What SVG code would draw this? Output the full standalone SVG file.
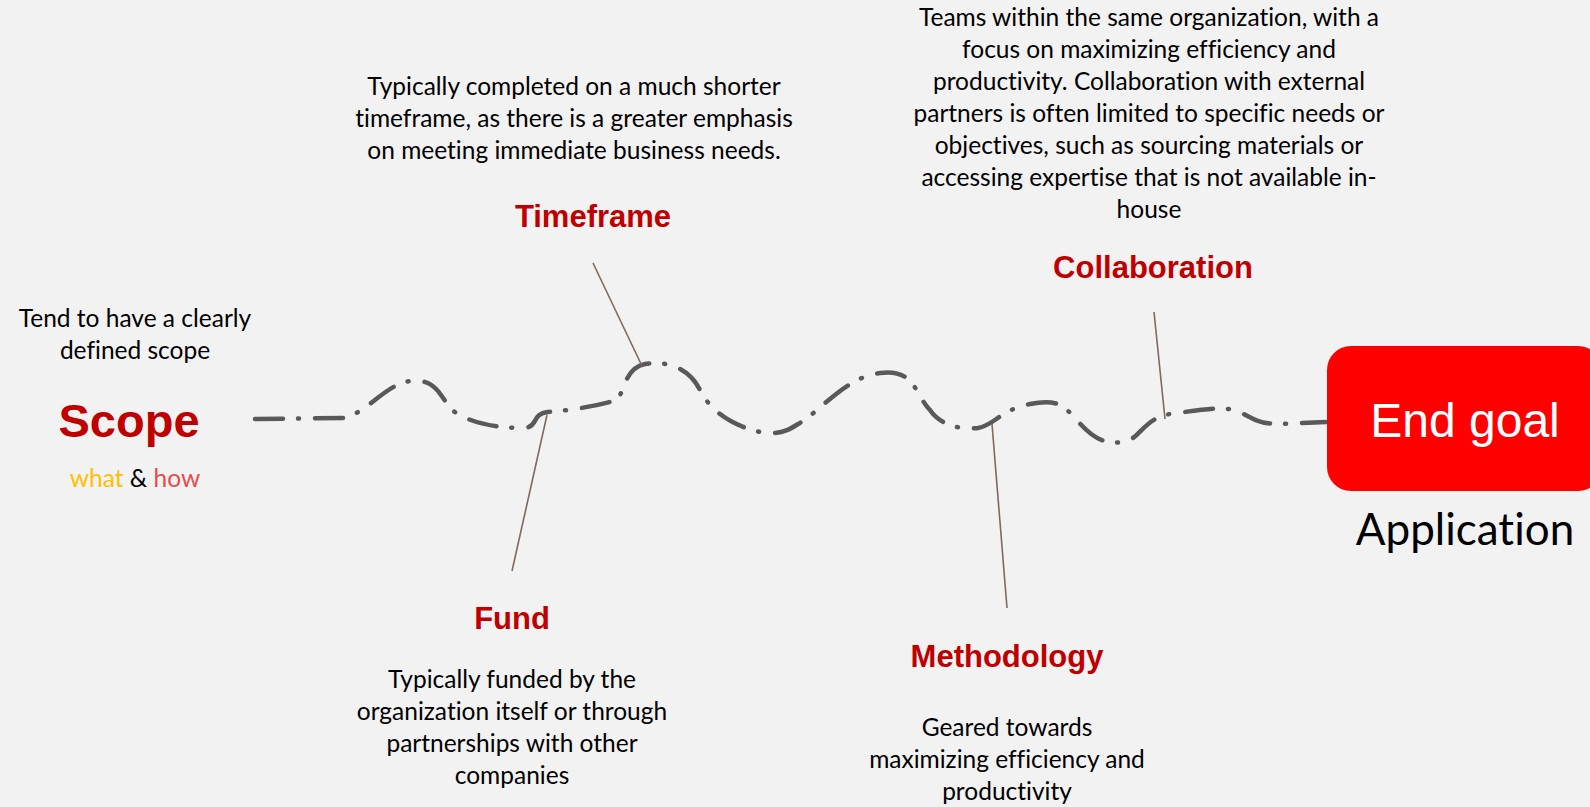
<svg xmlns="http://www.w3.org/2000/svg" width="1590" height="807" viewBox="0 0 1590 807">
<style>
.body{font-family:Lato,"Noto Sans",sans-serif;font-size:24.5px;fill:#000;text-anchor:middle;font-variant-ligatures:none}
.head{font-family:"Liberation Sans",Arial,sans-serif;font-weight:bold;font-size:31px;fill:#C00000;text-anchor:middle}
.leader{stroke:#7F6A5E;stroke-width:1.6;fill:none}
.wave{stroke:#595959;stroke-width:4.5;fill:none;stroke-linecap:round;stroke-dasharray:28 15 1 16}
</style>
<rect width="1590" height="807" fill="#F2F2F2"/>
<g id="connectors">
<path class="wave" d="M255,419 L345,418 C370,410 385,385 410,381 C435,378 440,395 450,408 C462,420 490,428 522,428 C540,428 530,414 548,412 C575,410 600,405 617,400 C625,390 625,368 645,364 C670,360 690,370 700,390 C710,410 730,425 760,432 C785,436 790,428 805,420 C830,400 850,377 880,373 C915,368 915,395 930,410 C940,425 960,430 978,428 C995,425 1000,410 1030,404 C1060,398 1065,408 1075,418 C1090,435 1100,445 1125,442 C1140,438 1145,418 1170,414 C1200,410 1225,405 1240,412 C1255,420 1260,424 1282,424 L1326,422"/>
<line class="leader" x1="593" y1="263" x2="642" y2="366"/>
<line class="leader" x1="547" y1="415" x2="512" y2="571"/>
<line class="leader" x1="992" y1="424" x2="1007" y2="608"/>
<line class="leader" x1="1154" y1="312" x2="1165" y2="419"/>
</g>
<g id="scope">
<text class="body" x="135" y="327">Tend to have a clearly</text>
<text class="body" x="135" y="359">defined scope</text>
<text class="head" x="129" y="437" style="font-size:47px">Scope</text>
<text class="body" x="135" y="487"><tspan fill="#FFC000">what</tspan> &amp; <tspan fill="#E84B4B">how</tspan></text>
</g>
<g id="timeframe">
<text class="body" x="574" y="95">Typically completed on a much shorter</text>
<text class="body" x="574" y="127">timeframe, as there is a greater emphasis</text>
<text class="body" x="574" y="159">on meeting immediate business needs.</text>
<text class="head" x="593" y="227">Timeframe</text>
</g>
<g id="fund">
<text class="head" x="512" y="629">Fund</text>
<text class="body" x="512" y="688">Typically funded by the</text>
<text class="body" x="512" y="720">organization itself or through</text>
<text class="body" x="512" y="752">partnerships with other</text>
<text class="body" x="512" y="784">companies</text>
</g>
<g id="methodology">
<text class="head" x="1007" y="667">Methodology</text>
<text class="body" x="1007" y="736">Geared towards</text>
<text class="body" x="1007" y="768">maximizing efficiency and</text>
<text class="body" x="1007" y="800">productivity</text>
</g>
<g id="collaboration">
<text class="body" x="1149" y="26">Teams within the same organization, with a</text>
<text class="body" x="1149" y="58">focus on maximizing efficiency and</text>
<text class="body" x="1149" y="90">productivity. Collaboration with external</text>
<text class="body" x="1149" y="122">partners is often limited to specific needs or</text>
<text class="body" x="1149" y="154">objectives, such as sourcing materials or</text>
<text class="body" x="1149" y="186">accessing expertise that is not available in-</text>
<text class="body" x="1149" y="218">house</text>
<text class="head" x="1153" y="278">Collaboration</text>
</g>
<g id="endgoal">
<rect x="1327" y="346" width="275" height="145" rx="24" fill="#FF0000"/>
<text x="1465" y="437" style="font-family:'Liberation Sans',Arial,sans-serif;font-size:48px;fill:#fff;text-anchor:middle">End goal</text>
<text class="body" x="1465" y="545" style="font-size:44px">Application</text>
</g>
</svg>
